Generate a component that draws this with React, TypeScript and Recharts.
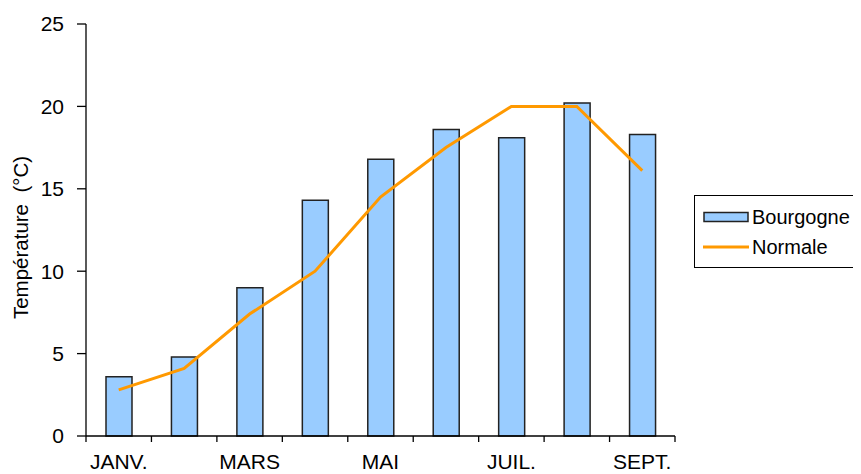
import React from 'react';
import { ComposedChart, Bar, Line, XAxis, YAxis, Legend } from 'recharts';

const MONTHS = ['JANV.', 'FÉVR.', 'MARS', 'AVR.', 'MAI', 'JUIN', 'JUIL.', 'AOÛT', 'SEPT.'];
const BOURGOGNE = [3.6, 4.8, 9.0, 14.3, 16.8, 18.6, 18.1, 20.2, 18.3];
const NORMALE = [2.8, 4.1, 7.4, 10.0, 14.5, 17.5, 20.0, 20.0, 16.1];
const Y_TICKS = [0, 5, 10, 15, 20, 25];
const X_BOUNDS = [0, 1, 2, 3, 4, 5, 6, 7, 8, 9];

const data = MONTHS.map((m, i) => ({
  month: m,
  pos: i + 0.5,
  Bourgogne: BOURGOGNE[i],
  Normale: NORMALE[i],
}));

const W = 853;
const H = 466;
const MARGIN = { top: 16, right: 186, left: 0, bottom: 0 };
const Y_W = 78;
const CAT_W = (W - MARGIN.right - Y_W - MARGIN.left) / MONTHS.length;
const FONT = '"Liberation Sans", Arial, sans-serif';

const XTick = (props: any) => {
  const { x, y, payload } = props;
  const v = payload.value;
  if (v >= MONTHS.length || v % 2 !== 0) return null;
  return (
    <text x={x + CAT_W / 2} y={y + 10} dy="0.71em" textAnchor="middle" fontSize={21} fontFamily={FONT} fill="#000">
      {MONTHS[v]}
    </text>
  );
};

const YLabel = () => (
  <text
    x={12}
    y={229.5}
    transform="rotate(-90, 12, 229.5)"
    textAnchor="middle"
    dominantBaseline="central"
    fontSize={20.5}
    fontFamily={FONT}
    fill="#000"
  >
    {'Température\u00A0 (°C)'}
  </text>
);

const LegendContent = (props: any) => {
  const { payload } = props;
  return (
    <div
      style={{
        border: '1.5px solid #000',
        background: '#fff',
        padding: '6px 0 6px 8px',
        fontFamily: FONT,
        fontSize: 20,
        color: '#000',
        boxSizing: 'border-box',
        width: 166,
        height: 73,
      }}
    >
      {(payload || []).map((p: any) => (
        <div key={p.value} style={{ display: 'flex', alignItems: 'center', height: 30 }}>
          <svg width={46} height={14} style={{ marginRight: 3 }}>
            {p.type === 'line' ? (
              <line x1={0} x2={46} y1={7} y2={7} stroke="#FF9900" strokeWidth={3} />
            ) : (
              <rect x={1} y={2.5} width={44} height={9} fill="#99CCFF" stroke="#222" strokeWidth={1.5} />
            )}
          </svg>
          <span>{p.value}</span>
        </div>
      ))}
    </div>
  );
};

export default function App() {
  return (
    <ComposedChart width={W} height={H} data={data} margin={MARGIN}>
      <XAxis
        dataKey="pos"
        type="number"
        domain={[0, 9]}
        ticks={X_BOUNDS}
        interval={0}
        tick={<XTick />}
        tickSize={6}
        height={38}
        axisLine={{ stroke: '#000', strokeWidth: 1.3 }}
        tickLine={{ stroke: '#000', strokeWidth: 1.3 }}
      />
      <YAxis
        domain={[0, 25]}
        ticks={Y_TICKS}
        width={Y_W}
        tickSize={9}
        tickMargin={13}
        tick={{ fontSize: 21, fontFamily: FONT, fill: '#000' }}
        axisLine={{ stroke: '#000', strokeWidth: 1.3 }}
        tickLine={{ stroke: '#000', strokeWidth: 1.3 }}
        label={<YLabel />}
      />
      <Legend
        layout="vertical"
        align="center"
        verticalAlign="middle"
        content={<LegendContent />}
        wrapperStyle={{ left: 686, top: 187, width: 166 }}
      />
      <Bar dataKey="Bourgogne" barSize={26} fill="#99CCFF" stroke="#222" strokeWidth={1.5} isAnimationActive={false} legendType="rect" />
      <Line dataKey="Normale" stroke="#FF9900" strokeWidth={3} dot={false} isAnimationActive={false} legendType="line" />
    </ComposedChart>
  );
}
